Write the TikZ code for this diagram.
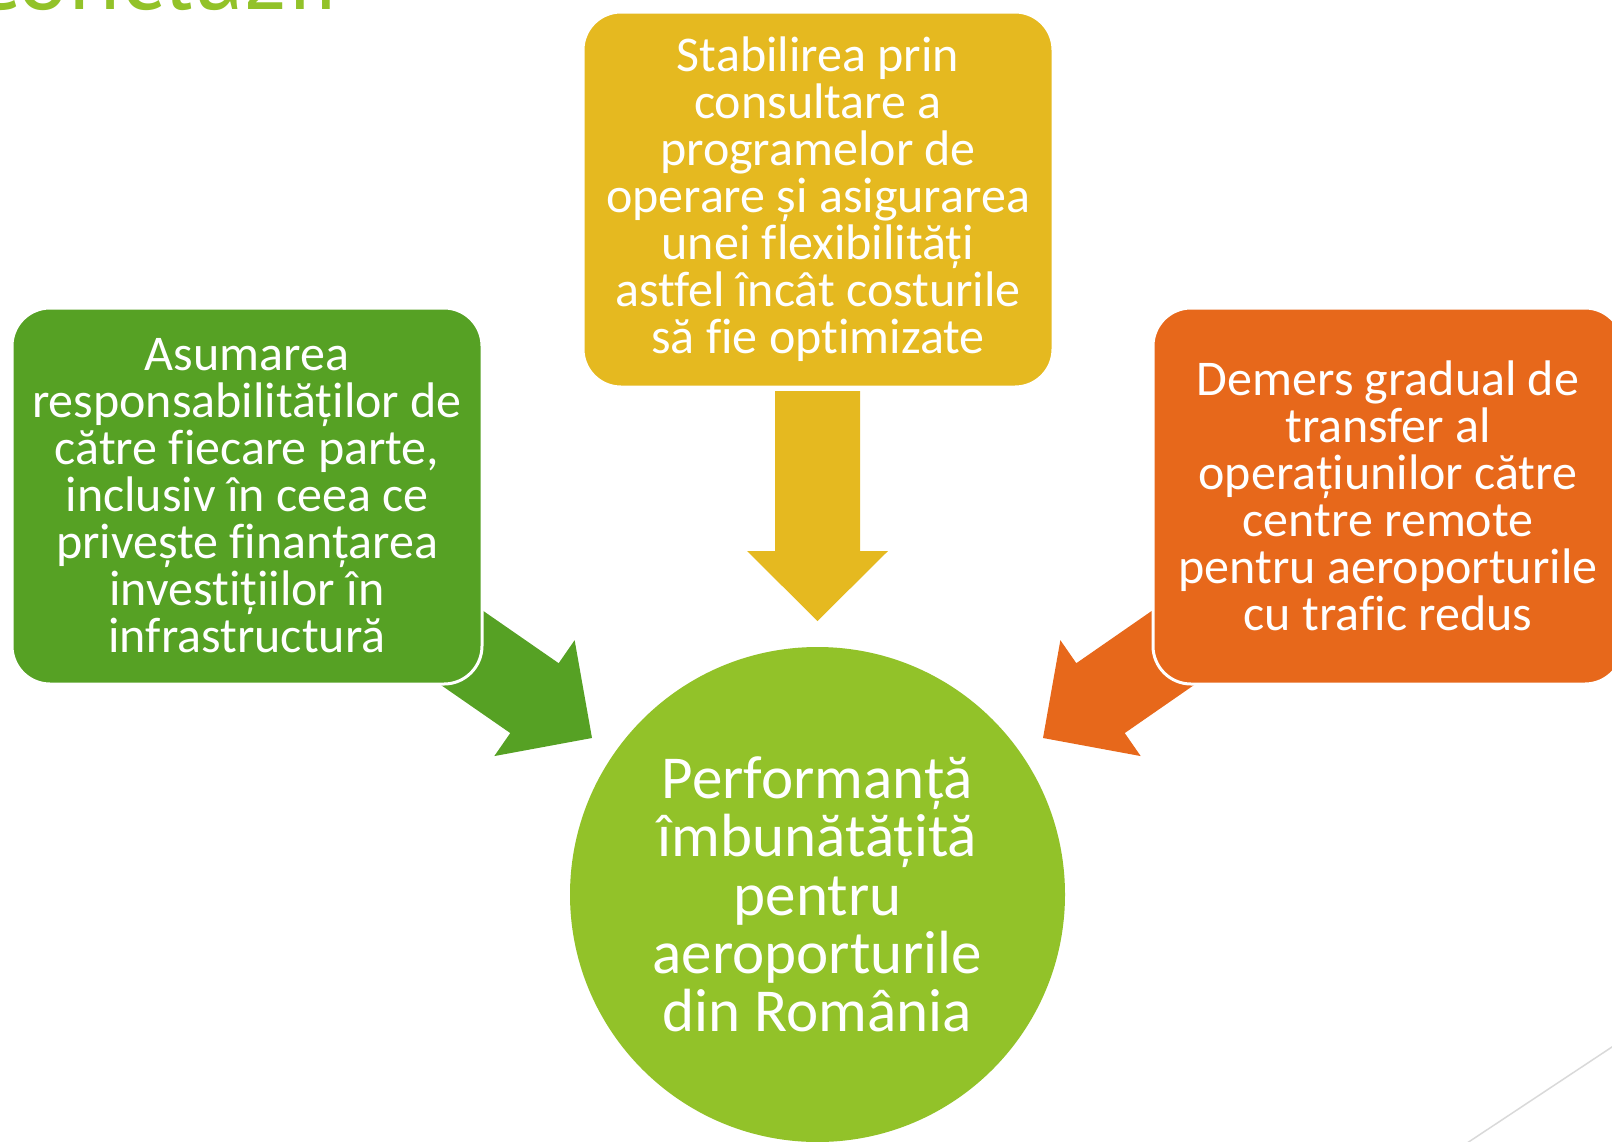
\documentclass[tikz,border=0pt]{standalone}
\usepackage{fontspec}
\setmainfont{Carlito}[Ligatures=NoCommon]
\newfontfamily\titlefont{PT Sans}
\usetikzlibrary{calc}
\usetikzlibrary{backgrounds}
\definecolor{leafgreen}{HTML}{56A124}
\definecolor{mustard}{HTML}{E5B920}
\definecolor{rust}{HTML}{E7681B}
\definecolor{lime}{HTML}{92C229}
\definecolor{rulegrey}{HTML}{D9D9D9}
\tikzstyle{box}=[rectangle,rounded corners=38pt,draw=white,line width=3pt,minimum width=470pt,minimum height=376pt,inner sep=0pt,align=center,text=white,font=\fontsize{50}{47}\selectfont]
\tikzstyle{hub}=[circle,fill=lime,minimum size=495pt,inner sep=0pt,align=center,text=white,font=\fontsize{61}{58.25}\selectfont]
% block arrow: fill colour, from, to
\newcommand{\blockarr}[3]{%
  \coordinate (#2h) at ($(#3)!70pt!(#2)$);
  \fill[#1] ($(#2)!42.5pt!90:(#3)$) -- ($(#2h)!42.5pt!90:(#3)$) -- ($(#2h)!70.5pt!90:(#3)$)
    -- (#3) -- ($(#2h)!70.5pt!-90:(#3)$) -- ($(#2h)!42.5pt!-90:(#3)$) -- ($(#2)!42.5pt!-90:(#3)$) -- cycle;
}

\begin{document}
\begin{tikzpicture}[x=1pt,y=-1pt]
  \useasboundingbox (0,0) rectangle (1612,1141);
  \clip (0,0) rectangle (1612,1141);
  \node[anchor=base east,text=lime,font=\titlefont\fontsize{96}{96}\selectfont,inner sep=0pt] (title) at (339,9) {Concluzii};
  \coordinate (r1) at (1455,1151);
  \coordinate (r2) at (1627,1037);
  \draw[rulegrey,line width=1.5pt] (r1) -- (r2);

  \node[box,fill=leafgreen] (duty) at (247,496) {Asumarea\\responsabilităților de\\către fiecare parte,\\inclusiv în ceea ce\\privește finanțarea\\investițiilor în\\infrastructură};
  \node[box,fill=mustard,minimum height=375pt] (plan) at (818,199.5) {Stabilirea prin\\consultare a\\programelor de\\operare și asigurarea\\unei flexibilități\\astfel încât costurile\\să fie optimizate};
  \node[box,fill=rust] (remote) at (1388,496) {Demers gradual de\\transfer al\\operațiunilor către\\centre remote\\pentru aeroporturile\\cu trafic redus};
  \node[hub] (perf) at (817.5,894.5) {Performanță\\îmbunătățită\\pentru\\aeroporturile\\din România};

  \coordinate (ls) at (403,607);
  \coordinate (lt) at (592,738);
  \coordinate (ms) at (817.5,391);
  \coordinate (mt) at (817.5,621);
  \coordinate (rs) at (1232,607);
  \coordinate (rt) at (1043,738);
  \begin{scope}[on background layer]
    \blockarr{leafgreen}{ls}{lt}
    \blockarr{mustard}{ms}{mt}
    \blockarr{rust}{rs}{rt}
  \end{scope}
\end{tikzpicture}
\end{document}
